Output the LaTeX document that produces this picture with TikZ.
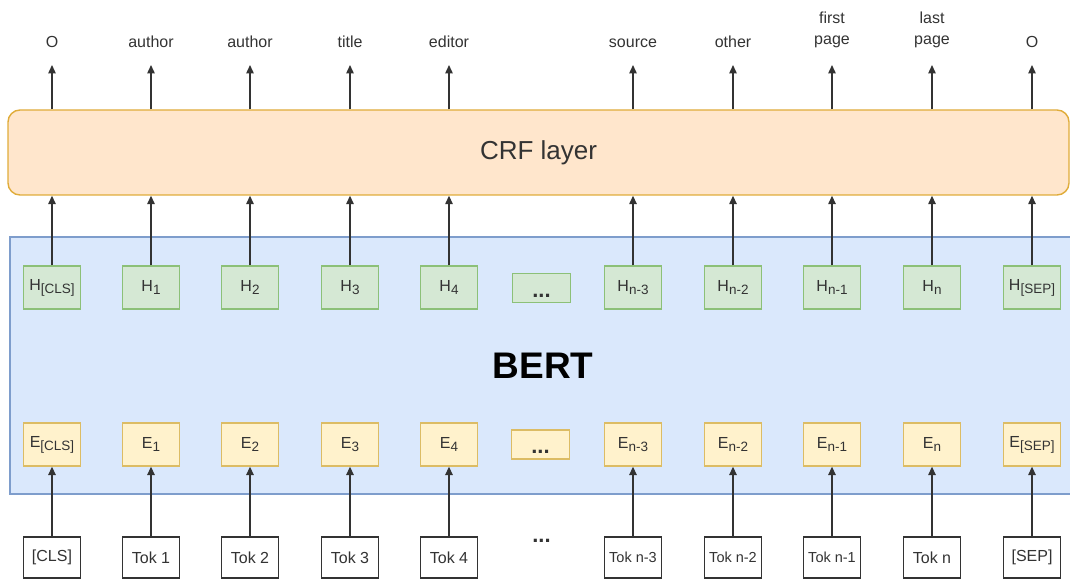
\documentclass[tikz,border=0pt]{standalone}
\usepackage{fontspec}
\setmainfont{Liberation Sans}
\usetikzlibrary{arrows.meta}

\definecolor{ink}{HTML}{333333}
\definecolor{crffill}{HTML}{FFE6CC}
\definecolor{crfline}{HTML}{E0AC3A}
\definecolor{bertfill}{HTML}{DAE8FC}
\definecolor{bertline}{HTML}{7E9DCC}
\definecolor{hfill}{HTML}{D5E8D4}
\definecolor{hline}{HTML}{8CC078}
\definecolor{efill}{HTML}{FFF2CC}
\definecolor{eline}{HTML}{DCBC64}

% lowered, smaller index text
\newcommand\idx[1]{\raisebox{-0.35ex}{\fontsize{13.5}{14}\selectfont #1}}

\begin{document}
\begin{tikzpicture}[x=1pt,y=-1pt,
  box/.style={minimum width=57pt, minimum height=43pt, inner sep=0pt, line width=1.3pt,
              text=ink, font=\fontsize{16}{18}\selectfont},
  hbox/.style={box, draw=hline, fill=hfill},
  ebox/.style={box, draw=eline, fill=efill},
  dotbox/.style={minimum width=58pt, minimum height=29pt, inner sep=0pt, line width=1.3pt},
  tokbox/.style={box, draw=ink, fill=white, minimum height=41pt},
  lab/.style={text=ink, font=\fontsize{16}{21}\selectfont, align=center, inner sep=0pt},
  arr/.style={draw=ink, line width=1.4pt, -{Triangle[length=8.5pt,width=7.5pt]}},
  dots/.style={text=ink, font=\bfseries\fontsize{22}{22}\selectfont, inner sep=0pt}
]
\useasboundingbox (0,0) rectangle (1070,580);

% BERT encoder block
\path[fill=bertfill, draw=bertline, line width=1.2pt] (10,237) rectangle (1075,494);
\node[font=\bfseries\fontsize{37}{40}\selectfont, text=black] (bert) at (543,366) {BERT};

% CRF layer
\node[draw=crfline, fill=crffill, line width=1.4pt, rounded corners=12pt,
      minimum width=1061pt, minimum height=85pt, inner sep=0pt,
      text=ink, font=\fontsize{26}{30}\selectfont] (crf) at (538.5,152.5) {CRF layer};

% columns: index / x / output tag / hidden / embedding / token
\foreach \i/\x/\tag/\hh/\ee/\tk in {
  0/52/O/H\idx{[CLS]}/E\idx{[CLS]}/[CLS],
  1/151/author/H\idx{1}/E\idx{1}/Tok 1,
  2/250/author/H\idx{2}/E\idx{2}/Tok 2,
  3/350/title/H\idx{3}/E\idx{3}/Tok 3,
  4/449/editor/H\idx{4}/E\idx{4}/Tok 4,
  5/633/source/H\idx{n-3}/E\idx{n-3}/{\fontsize{14.5}{16}\selectfont Tok n-3},
  6/733/other/H\idx{n-2}/E\idx{n-2}/{\fontsize{14.5}{16}\selectfont Tok n-2},
  7/832/first\\page/H\idx{n-1}/E\idx{n-1}/{\fontsize{14.5}{16}\selectfont Tok n-1},
  8/932/last\\page/H\idx{n}/E\idx{n}/Tok n,
  9/1032/O/H\idx{[SEP]}/E\idx{[SEP]}/[SEP]}
{
  \node[hbox] (h\i) at (\x,287.5) {\hh};
  \node[ebox] (e\i) at (\x,444.5) {\ee};
  \node[tokbox] (t\i) at (\x,557.5) {\tk};
  \coordinate (o\i) at (\x,65);
  \node[lab, anchor=south] (lab\i) at (\x,48) {\tag};
  \draw[arr] (t\i.north) -- (e\i.south);
  \draw[arr] (h\i.north) -- (crf.south -| h\i);
  \draw[arr] (crf.north -| o\i) -- (o\i);
}

% elided middle positions
\node[dotbox, draw=hline, fill=hfill] (hdots) at (541.5,288) {};
\node[dots, anchor=base] at (541.5,297) {...};
\node[dotbox, draw=eline, fill=efill] (edots) at (540.5,444.5) {};
\node[dots, anchor=base] at (540.5,453) {...};
\node[dots, anchor=base] (tdots) at (541.5,542) {...};
\end{tikzpicture}
\end{document}
